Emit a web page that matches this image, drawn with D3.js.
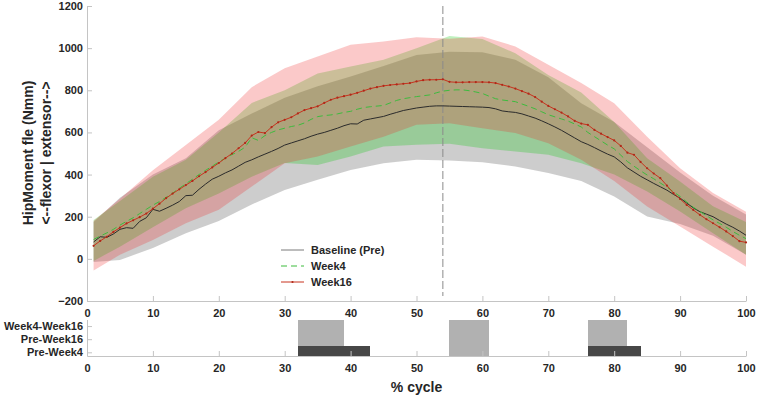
<!DOCTYPE html>
<html>
<head>
<meta charset="utf-8">
<script src="https://cdn.jsdelivr.net/npm/d3@7"></script>
<style>
  body { margin: 0; background: #fff; }
  svg { display: block; font-family: "Liberation Sans", Arial, sans-serif; }
</style>
</head>
<body>
<svg id="chart" width="760" height="397"></svg>
<script>
// percent of gait cycle for the mean curves
const cycle = d3.range(1, 101);

const baseline = [80, 105, 102, 118, 140, 148, 145, 178, 195, 235, 226, 240, 255, 272, 300, 302, 330, 355, 378, 392,
  408, 422, 440, 458, 470, 484, 497, 510, 524, 540, 550, 560, 570, 582, 592, 600, 610, 620, 632, 641,
  640, 658, 664, 670, 676, 686, 695, 704, 710, 716, 720, 724, 726, 726, 725, 724, 723, 722, 721, 720,
  718, 712, 702, 698, 695, 688, 678, 668, 655, 641, 626, 610, 592, 574, 556, 543, 528, 512, 497, 484,
  460, 432, 412, 392, 375, 358, 342, 326, 306, 288, 265, 242, 224, 212, 200, 182, 165, 150, 132, 112];

const week4 = [92, 108, 123, 140, 160, 178, 195, 215, 235, 255, 272, 292, 312, 335, 356, 378, 400, 420, 440, 460,
  478, 495, 510, 530, 575, 562, 585, 600, 612, 620, 628, 634, 645, 662, 675, 680, 683, 688, 695, 700,
  710, 718, 722, 725, 728, 740, 752, 760, 765, 770, 774, 778, 788, 796, 800, 802, 802, 798, 792, 785,
  772, 760, 754, 750, 746, 735, 724, 712, 698, 684, 674, 664, 654, 640, 626, 600, 580, 560, 540, 522,
  492, 462, 440, 418, 398, 380, 360, 340, 318, 296, 270, 245, 225, 205, 185, 168, 150, 130, 112, 96];

const week16 = [62, 85, 105, 128, 148, 168, 183, 198, 215, 238, 262, 288, 310, 330, 350, 370, 392, 412, 434, 455,
  478, 500, 525, 550, 585, 602, 597, 625, 648, 660, 672, 690, 706, 715, 724, 740, 755, 765, 772, 779,
  788, 798, 808, 815, 821, 825, 828, 831, 834, 842, 848, 850, 850, 852, 840, 838, 838, 839, 839, 839,
  838, 834, 826, 818, 808, 796, 784, 768, 746, 726, 710, 694, 676, 655, 642, 636, 612, 594, 578, 562,
  536, 504, 494, 460, 430, 405, 383, 348, 312, 284, 256, 232, 209, 188, 169, 150, 130, 108, 84, 78];

// mean +/- SD band edges, read every 5 %
const bandCycle = [1, 5, 10, 15, 20, 25, 30, 35, 40, 45, 50, 55, 60, 65, 70, 75, 80, 85, 90, 95, 100];
const baselineLo = [-15, -5, 51, 122, 180, 258, 327, 375, 422, 454, 470, 467, 459, 438, 407, 370, 296, 201, 165, 110, 20];
const baselineHi = [175, 290, 400, 478, 610, 690, 765, 819, 865, 915, 968, 983, 981, 945, 862, 738, 650, 530, 410, 300, 210];
const week4Lo = [-10, 58, 150, 240, 310, 390, 455, 446, 486, 533, 541, 546, 525, 509, 494, 454, 400, 320, 225, 122, 19];
const week4Hi = [185, 275, 390, 470, 600, 740, 800, 880, 913, 945, 1000, 1058, 1043, 976, 872, 790, 650, 478, 367, 250, 175];
const week16Lo = [-55, 19, 90, 169, 233, 343, 454, 486, 533, 580, 636, 644, 620, 597, 549, 470, 370, 248, 153, 58, -37];
const week16Hi = [180, 285, 420, 540, 660, 815, 905, 960, 1016, 1031, 1052, 1045, 1055, 1008, 921, 834, 739, 580, 430, 312, 224];

const yTicks = [-200, 0, 200, 400, 600, 800, 1000, 1200];
const xTicks = [0, 10, 20, 30, 40, 50, 60, 70, 80, 90, 100];
const markerCycle = 54;

// significance panel
const comparisons = ["Pre-Week4", "Pre-Week16", "Week4-Week16"];
const sigRow = [1, 2, 3, 1, 2, 3, 1, 2, 3];
const sigFrom = [32, 32, 32, 55, 55, 55, 76, 76, 76];
const sigTo = [43, 39, 39, 61, 61, 61, 84, 82, 82];
const sigDark = [true, false, false, false, false, false, true, false, false];

const svg = d3.select("#chart");
const font = "'Liberation Sans', Arial, sans-serif";
const axisGrey = "#c4c4c4";
const textCol = "#262626";

const x = d3.scaleLinear().domain([0, 100]).range([87, 746]);
const y = d3.scaleLinear().domain([-200, 1200]).range([301, 6]);
const yRow = d3.scaleLinear().domain([0.72, 3.5]).range([356, 319.5]);

const series = [
  { name: "Baseline (Pre)", mean: baseline, lo: baselineLo, hi: baselineHi, fill: "#707070", op: 0.35, line: "#2b2b2b", dash: null },
  { name: "Week4", mean: week4, lo: week4Lo, hi: week4Hi, fill: "#00c800", op: 0.25, line: "#3dbb3d", dash: "6,4" },
  { name: "Week16", mean: week16, lo: week16Lo, hi: week16Hi, fill: "#f02828", op: 0.25, line: "#c8321e", dash: null }
];

// shaded bands
series.forEach(s => {
  const area = d3.area()
    .x((d, i) => x(bandCycle[i]))
    .y0((d, i) => y(s.lo[i]))
    .y1((d, i) => y(s.hi[i]));
  svg.append("path")
    .attr("d", area(bandCycle))
    .attr("fill", s.fill)
    .attr("fill-opacity", s.op);
});

// vertical marker
svg.append("line")
  .attr("x1", x(markerCycle)).attr("x2", x(markerCycle))
  .attr("y1", y(1200)).attr("y2", 296)
  .attr("stroke", "#8a8a8a")
  .attr("stroke-width", 1)
  .attr("stroke-dasharray", "8,3");

// mean lines
series.forEach(s => {
  const line = d3.line()
    .x((d, i) => x(cycle[i]))
    .y(d => y(d));
  svg.append("path")
    .attr("d", line(s.mean))
    .attr("fill", "none")
    .attr("stroke", s.line)
    .attr("stroke-width", 1)
    .attr("stroke-dasharray", s.dash);
});

svg.append("g")
  .selectAll("circle")
  .data(week16)
  .enter()
  .append("circle")
  .attr("cx", (d, i) => x(cycle[i]))
  .attr("cy", d => y(d))
  .attr("r", 1.1)
  .attr("fill", "#b02818");

// axes
function styleAxis(g) {
  g.select(".domain").attr("stroke", axisGrey);
  g.selectAll(".tick line").attr("stroke", axisGrey);
  g.selectAll(".tick text")
    .attr("fill", textCol)
    .style("font-family", font)
    .style("font-size", "11px")
    .style("font-weight", "bold");
}

svg.append("g")
  .attr("transform", "translate(0,301)")
  .call(d3.axisBottom(x).tickValues(xTicks).tickFormat(d3.format("d")).tickSize(-5).tickSizeOuter(0).tickPadding(8))
  .call(styleAxis);

svg.append("g")
  .attr("transform", "translate(87,0)")
  .call(d3.axisLeft(y).tickValues(yTicks).tickFormat(d3.format("d")).tickSize(-5).tickSizeOuter(0).tickPadding(4))
  .call(styleAxis);

// y title
const yTitle = svg.append("g")
  .attr("transform", "translate(37,153) rotate(-90)")
  .attr("text-anchor", "middle")
  .attr("fill", textCol)
  .style("font-family", font)
  .style("font-size", "14px")
  .style("font-weight", "bold");
yTitle.append("text").attr("y", -4).text("HipMoment fle (Nmm)");
yTitle.append("text").attr("y", 14).text("<--flexor | extensor-->");

// legend
const legend = svg.append("g").attr("transform", "translate(281,250)");
series.forEach((s, i) => {
  const row = legend.append("g").attr("transform", `translate(0,${i * 16})`);
  row.append("line")
    .attr("x1", 0).attr("x2", 23)
    .attr("stroke", i === 0 ? "#7a7a7a" : s.line)
    .attr("stroke-width", 1)
    .attr("stroke-dasharray", s.dash);
  if (i === 2) {
    row.append("circle").attr("cx", 11.5).attr("r", 1.1).attr("fill", "#b02818");
  }
  row.append("text")
    .attr("x", 30)
    .attr("dy", "0.35em")
    .attr("fill", textCol)
    .style("font-family", font)
    .style("font-size", "11px")
    .style("font-weight", "bold")
    .text(s.name);
});

// significance bars
svg.append("g")
  .selectAll("rect")
  .data(sigRow)
  .enter()
  .append("rect")
  .attr("x", (d, i) => x(sigFrom[i]))
  .attr("width", (d, i) => x(sigTo[i]) - x(sigFrom[i]))
  .attr("y", d => yRow(Math.min(d + 0.5, 3.5)))
  .attr("height", d => yRow(Math.max(d - 0.5, 0.72)) - yRow(Math.min(d + 0.5, 3.5)))
  .attr("fill", (d, i) => sigDark[i] ? "#474747" : "#b1b1b1")
  .attr("shape-rendering", "crispEdges");

svg.append("g")
  .attr("transform", "translate(0,356)")
  .call(d3.axisBottom(x).tickValues(xTicks).tickFormat(d3.format("d")).tickSize(-5).tickSizeOuter(0).tickPadding(8))
  .call(styleAxis);

svg.append("g")
  .attr("transform", "translate(87,0)")
  .call(d3.axisLeft(yRow).tickValues([1, 2, 3]).tickFormat((d, i) => comparisons[i]).tickSize(-5).tickSizeOuter(0).tickPadding(4))
  .call(styleAxis);

svg.append("text")
  .attr("x", x(50))
  .attr("y", 387)
  .attr("dy", "0.35em")
  .attr("text-anchor", "middle")
  .attr("fill", textCol)
  .style("font-family", font)
  .style("font-size", "14px")
  .style("font-weight", "bold")
  .text("% cycle");
</script>
</body>
</html>
